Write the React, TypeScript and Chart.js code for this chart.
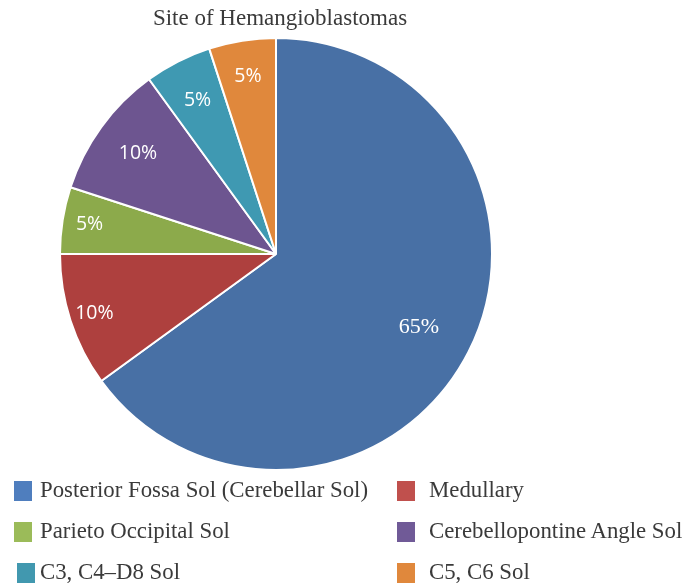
import { useEffect, useRef } from "react";
import { Chart, registerables } from "chart.js";

Chart.register(...registerables);

const titleText = "Site of Hemangioblastomas";
const categories = [
  "Posterior Fossa Sol (Cerebellar Sol)",
  "Medullary",
  "Parieto Occipital Sol",
  "Cerebellopontine Angle Sol",
  "C3, C4–D8 Sol",
  "C5, C6 Sol",
];
const values = [65, 10, 5, 10, 5, 5];
const sliceColors = ["#4870A5", "#AE403E", "#8CAA4B", "#6D5590", "#3F99B2", "#E0883C"];
const legendColors = ["#4F7EBE", "#C0504D", "#9BBB59", "#705A97", "#4198AF", "#E0883C"];
const labelRadius = [0.743, 0.884, 0.874, 0.79, 0.8, 0.83];
const labelFonts = [
  '22px "Liberation Serif", "DejaVu Serif", serif',
  '19.5px "Open Sans", sans-serif',
  '19.5px "Open Sans", sans-serif',
  '19.5px "Open Sans", sans-serif',
  '19.5px "Open Sans", sans-serif',
  '19.5px "Open Sans", sans-serif',
];

const legendLayout = [
  { box: 14, text: 40, row: 0 },
  { box: 397, text: 429, row: 0 },
  { box: 14, text: 40, row: 1 },
  { box: 397, text: 429, row: 1 },
  { box: 17, text: 40, row: 2 },
  { box: 397, text: 429, row: 2 },
];

const labelPlugin = {
  id: "sliceLabels",
  afterDatasetsDraw(chart: any) {
    const ctx = chart.ctx;
    const meta = chart.getDatasetMeta(0);
    ctx.save();
    ctx.fillStyle = "#ffffff";
    ctx.textAlign = "center";
    ctx.textBaseline = "middle";
    meta.data.forEach((arc: any, i: number) => {
      const p = arc.getProps(["x", "y", "startAngle", "endAngle", "outerRadius"], true);
      const mid = (p.startAngle + p.endAngle) / 2;
      const r = p.outerRadius * labelRadius[i];
      ctx.font = labelFonts[i];
      ctx.fillText(values[i] + "%", p.x + Math.cos(mid) * r, p.y + Math.sin(mid) * r);
    });
    ctx.restore();
  },
};

export default function App() {
  const ref = useRef<HTMLCanvasElement | null>(null);
  useEffect(() => {
    if (!ref.current) return;
    const chart = new Chart(ref.current, {
      type: "pie",
      data: {
        labels: categories,
        datasets: [
          {
            data: values,
            backgroundColor: sliceColors,
            borderColor: "#ffffff",
            borderWidth: 2,
          },
        ],
      },
      options: {
        responsive: false,
        animation: false,
        layout: { padding: { left: 59, right: 195, top: 37, bottom: 117 } },
        plugins: {
          legend: { display: false },
          title: { display: false },
          tooltip: { enabled: false },
        },
      },
      plugins: [labelPlugin],
    });
    return () => chart.destroy();
  }, []);

  return (
    <div
      style={{
        position: "absolute",
        left: 0,
        top: 0,
        width: 688,
        height: 588,
        background: "#ffffff",
        overflow: "hidden",
        fontFamily: "'Liberation Serif', serif",
        color: "#3a3a3a",
      }}
    >
      <canvas ref={ref} width={688} height={588} style={{ position: "absolute", left: 0, top: 0 }} />
      <div
        style={{
          position: "absolute",
          left: 80,
          top: 3,
          width: 400,
          textAlign: "center",
          fontSize: 23,
          lineHeight: "30px",
          whiteSpace: "nowrap",
        }}
      >
        {titleText}
      </div>
      {categories.map((c, i) => {
        const L = legendLayout[i];
        const cy = 491 + L.row * 41;
        return (
          <div key={c}>
            <div
              style={{
                position: "absolute",
                left: L.box,
                top: cy - 10,
                width: 18,
                height: 20,
                background: legendColors[i],
              }}
            />
            <div
              style={{
                position: "absolute",
                left: L.text,
                top: cy - 16,
                height: 30,
                lineHeight: "30px",
                fontSize: 22.8,
                whiteSpace: "nowrap",
              }}
            >
              {c}
            </div>
          </div>
        );
      })}
    </div>
  );
}
